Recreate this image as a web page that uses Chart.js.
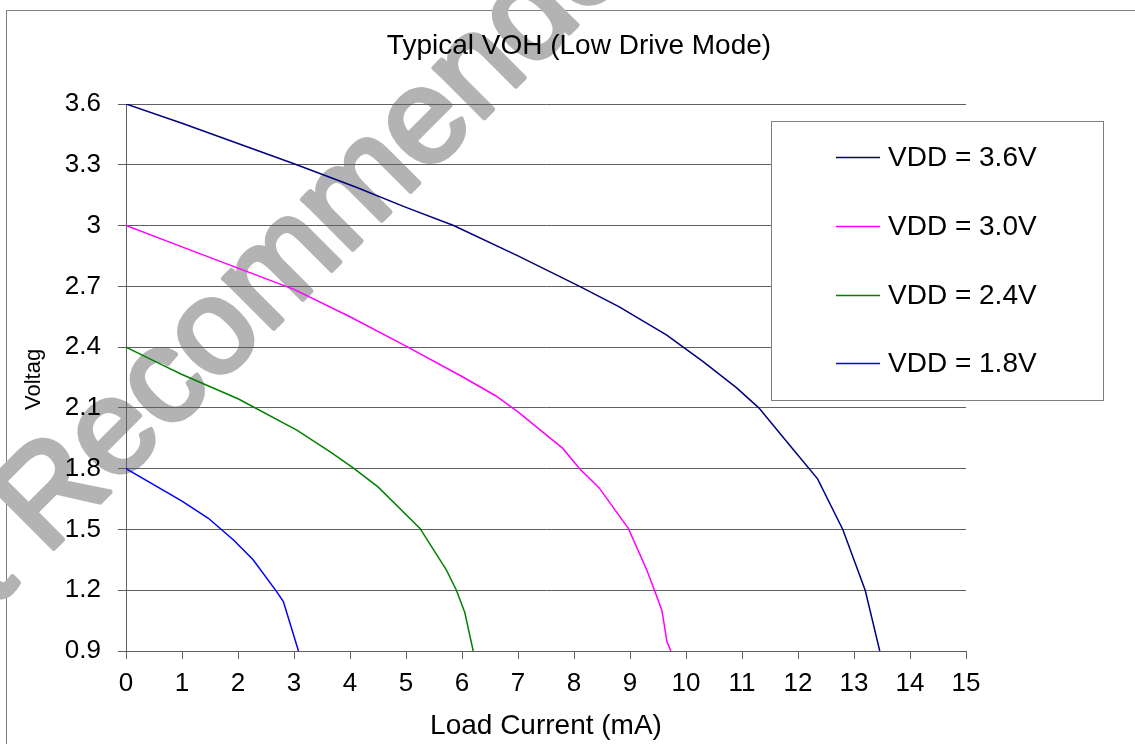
<!DOCTYPE html>
<html>
<head>
<meta charset="utf-8">
<title>Typical VOH (Low Drive Mode)</title>
<script src="https://cdn.jsdelivr.net/npm/chart.js@4.4.1/dist/chart.umd.min.js"></script>
<style>
  html, body { margin: 0; padding: 0; background: #fff; }
  #wrap { width: 1135px; height: 744px; }
</style>
</head>
<body>
<div id="wrap"><canvas id="vohChart" width="1135" height="744"></canvas></div>
<script>
// series (mA -> V)
const seriesLabels = ["VDD = 3.6V", "VDD = 3.0V", "VDD = 2.4V", "VDD = 1.8V"];
const seriesColors = ["#000080", "#ff00ff", "#008000", "#0000ff"];

const current36 = [0, 1, 2, 3, 4.1, 5, 5.85, 7, 8.1, 8.8, 9.65, 10.3, 10.9, 11.3, 11.9, 12.35, 12.8, 13.2, 13.46];
const voltage36 = [3.6, 3.505, 3.405, 3.305, 3.19, 3.09, 3.0, 2.85, 2.7, 2.6, 2.46, 2.33, 2.2, 2.1, 1.9, 1.75, 1.5, 1.2, 0.9];

const current30 = [0, 1, 2, 3, 4, 5, 6, 6.6, 7, 7.4, 7.8, 8.1, 8.45, 8.97, 9.3, 9.45, 9.57, 9.66, 9.73];
const voltage30 = [3.0, 2.895, 2.79, 2.685, 2.55, 2.405, 2.255, 2.16, 2.08, 1.99, 1.9, 1.8, 1.705, 1.505, 1.3, 1.19, 1.1, 0.945, 0.9];

const current24 = [0, 0.7, 1, 2, 3.05, 3.64, 4.05, 4.5, 5.25, 5.72, 5.9, 6.05, 6.2];
const voltage24 = [2.4, 2.305, 2.265, 2.145, 1.99, 1.884, 1.805, 1.71, 1.505, 1.3, 1.2, 1.09, 0.9];

const current18 = [0, 1, 1.47, 1.92, 2.27, 2.69, 2.81, 3.08];
const voltage18 = [1.8, 1.64, 1.555, 1.448, 1.35, 1.193, 1.144, 0.9];

const xTicks = [0, 1, 2, 3, 4, 5, 6, 7, 8, 9, 10, 11, 12, 13, 14, 15];
const yTicks = [0.9, 1.2, 1.5, 1.8, 2.1, 2.4, 2.7, 3.0, 3.3, 3.6];

const chartTitle = "Typical VOH (Low Drive Mode)";

const FONT = "'Liberation Sans', Arial, sans-serif";
const gridColor = "#5f5f5f";

Chart.defaults.font.family = FONT;
Chart.defaults.color = "#000";

function toPoints(xs, ys) {
    return xs.map((x, i) => ({ x: x, y: ys[i] }));
}

const currents = [current36, current30, current24, current18];
const voltages = [voltage36, voltage30, voltage24, voltage18];

const datasets = seriesLabels.map((label, i) => ({
    label: label,
    data: toPoints(currents[i], voltages[i]),
    borderColor: seriesColors[i],
    backgroundColor: seriesColors[i],
    borderWidth: 1.5,
    pointRadius: 0,
    tension: 0,
    fill: false
}));

// background, frame and the diagonal watermark
const backdrop = {
    id: "backdrop",
    beforeDraw(chart) {
        const ctx = chart.ctx;
        ctx.save();
        ctx.fillStyle = "#fff";
        ctx.fillRect(0, 0, chart.width, chart.height);
        ctx.strokeStyle = "#7f7f7f";
        ctx.lineWidth = 1;
        ctx.strokeRect(6.5, 10.5, 1300, 900);

        ctx.font = "134px " + FONT;
        ctx.fillStyle = "#b3b3b3";
        ctx.strokeStyle = "#b3b3b3";
        ctx.lineWidth = 5;
        ctx.lineJoin = "round";
        ctx.translate(46, 556);
        ctx.rotate(-Math.PI / 4);
        const text = "Not Recommended for New Designs";
        const lead = ctx.measureText("Not ").width;
        ctx.fillText(text, -lead, 0);
        ctx.strokeText(text, -lead, 0);
        ctx.restore();
    }
};

// title, boxed legend sitting over the grid, and the clipped y title
const overlay = {
    id: "overlay",
    afterDraw(chart) {
        const ctx = chart.ctx;
        ctx.save();
        ctx.font = "28px " + FONT;
        ctx.fillStyle = "#000";
        ctx.textAlign = "center";
        ctx.textBaseline = "middle";
        ctx.fillText(chartTitle, 579, 46);

        ctx.fillStyle = "#fff";
        ctx.fillRect(771, 121, 332, 279);
        ctx.strokeStyle = "#7f7f7f";
        ctx.lineWidth = 1;
        ctx.strokeRect(771.5, 121.5, 332, 279);

        const rowY = [157, 226, 295, 363];
        ctx.font = "28px " + FONT;
        ctx.textAlign = "left";
        chart.data.datasets.forEach((ds, i) => {
            ctx.strokeStyle = ds.borderColor;
            ctx.lineWidth = 1.5;
            ctx.beginPath();
            ctx.moveTo(836, rowY[i] + 0.5);
            ctx.lineTo(880, rowY[i] + 0.5);
            ctx.stroke();
            ctx.fillStyle = "#000";
            ctx.fillText(ds.label, 888, rowY[i] + 1);
        });
        ctx.restore();

        ctx.save();
        ctx.beginPath();
        ctx.rect(0, 349, 126, 400);
        ctx.clip();
        ctx.translate(40, 410);
        ctx.rotate(-Math.PI / 2);
        ctx.font = "22px " + FONT;
        ctx.fillStyle = "#000";
        ctx.textAlign = "left";
        ctx.textBaseline = "alphabetic";
        ctx.fillText("Voltage", 0, 0);
        ctx.restore();
    }
};

new Chart(document.getElementById("vohChart"), {
    type: "line",
    data: { datasets: datasets },
    options: {
        responsive: false,
        animation: false,
        events: [],
        layout: { padding: { left: 23, right: 169, top: 104, bottom: 0 } },
        plugins: {
            legend: { display: false },
            tooltip: { enabled: false },
            title: { display: false }
        },
        scales: {
            x: {
                type: "linear",
                min: 0,
                max: 15,
                afterBuildTicks: s => { s.ticks = xTicks.map(v => ({ value: v })); },
                afterFit: s => { s.height = 93; },
                ticks: { font: { size: 26 }, color: "#000", padding: 9, maxRotation: 0, autoSkip: false },
                grid: { drawOnChartArea: false, tickLength: 8, color: gridColor },
                border: { color: gridColor },
                title: {
                    display: true,
                    text: "Load Current (mA)",
                    color: "#000",
                    font: { size: 28 },
                    padding: { top: 0, bottom: 1 }
                }
            },
            y: {
                type: "linear",
                min: 0.9,
                max: 3.6,
                afterBuildTicks: s => { s.ticks = yTicks.map(v => ({ value: v })); },
                afterFit: s => { s.width = 103; },
                ticks: {
                    font: { size: 26 },
                    color: "#000",
                    padding: 17,
                    callback: v => String(Math.round(v * 10) / 10)
                },
                grid: { color: gridColor, tickLength: 8 },
                border: { color: gridColor }
            }
        }
    },
    plugins: [backdrop, overlay]
});
</script>
</body>
</html>
